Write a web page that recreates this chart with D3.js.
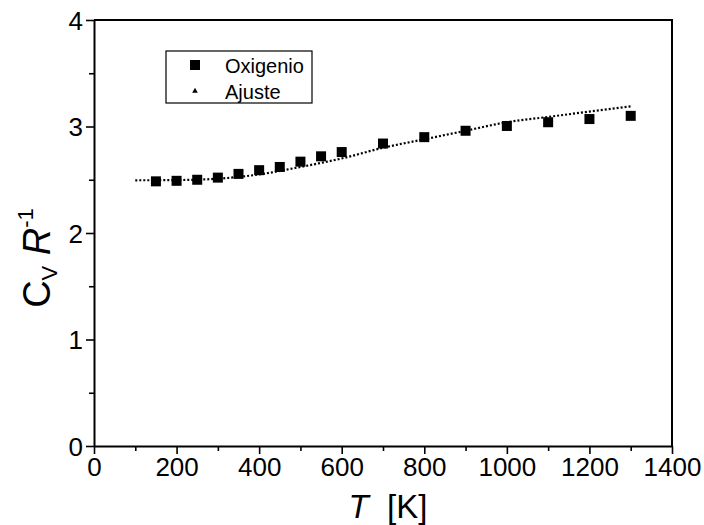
<!DOCTYPE html>
<html>
<head>
<meta charset="utf-8">
<script src="https://cdn.jsdelivr.net/npm/d3@7"></script>
<style>
  body { margin: 0; background: #fff; }
  svg text { font-family: "Liberation Sans", Arial, sans-serif; fill: #000; }
</style>
</head>
<body>
<svg id="chart" width="704" height="525"></svg>
<script>
'use strict';

// measured values (Oxigenio)
var temps = [150, 200, 250, 300, 350, 400, 450, 500, 550, 600, 700, 800, 900, 1000, 1100, 1200, 1300];
var cv = [2.485, 2.49, 2.50, 2.52, 2.555, 2.59, 2.62, 2.67, 2.72, 2.76, 2.84, 2.90, 2.96, 3.005, 3.04, 3.07, 3.10];

// fit curve (Ajuste)
var fitT = [100, 200, 300, 400, 500, 600, 700, 800, 900, 1000, 1100, 1200, 1300];
var fitCv = [2.495, 2.497, 2.51, 2.55, 2.62, 2.70, 2.80, 2.88, 2.96, 3.04, 3.09, 3.14, 3.19];

var xTicks = [0, 200, 400, 600, 800, 1000, 1200, 1400];
var yTicks = [0, 1, 2, 3, 4];
var legendLabels = ["Oxigenio", "Ajuste"];

var margin = {top: 20, left: 94};
var w = 578, h = 426;

var svg = d3.select("#chart");
var g = svg.append("g").attr("transform", "translate(" + margin.left + "," + margin.top + ")");

var x = d3.scaleLinear().domain([0, 1400]).range([0, w]);
var y = d3.scaleLinear().domain([0, 4]).range([h, 0]);

// minor ticks first
g.append("g")
	.attr("transform", "translate(0," + h + ")")
	.call(d3.axisBottom(x).tickValues(d3.range(100, 1400, 200)).tickSize(5).tickFormat(""))
	.call(a => a.select(".domain").remove());
g.append("g")
	.call(d3.axisLeft(y).tickValues([0.5, 1.5, 2.5, 3.5]).tickSize(5).tickFormat(""))
	.call(a => a.select(".domain").remove());

var xAxis = g.append("g")
	.attr("transform", "translate(0," + h + ")")
	.call(d3.axisBottom(x).tickValues(xTicks).tickFormat(d3.format("d")).tickSize(8).tickSizeOuter(0).tickPadding(4));
var yAxis = g.append("g")
	.call(d3.axisLeft(y).tickValues(yTicks).tickFormat(d3.format("d")).tickSize(8).tickSizeOuter(0).tickPadding(3));

[xAxis, yAxis].forEach(function(a){
	a.selectAll("text").style("font-size", "26px").attr("font-family", null);
});
yAxis.selectAll("text").attr("dy", "0.36em");
g.selectAll(".tick line").attr("stroke-width", 1.6);
g.selectAll(".domain").attr("stroke-width", 2);

// top and right frame
g.append("path")
	.attr("d", "M0,0H" + w + "V" + h)
	.attr("fill", "none").attr("stroke", "#000").attr("stroke-width", 2);

// fit line
var line = d3.line().x(function(d, i){ return x(fitT[i]); }).y(function(d){ return y(d); })
	.curve(d3.curveMonotoneX);
g.append("path")
	.datum(fitCv)
	.attr("d", line)
	.attr("fill", "none")
	.attr("stroke", "#000")
	.attr("stroke-width", 2.2)
	.attr("stroke-dasharray", "2 2");

// squares
var sq = 10;
g.selectAll(".pt").data(cv).enter().append("rect")
	.attr("class", "pt")
	.attr("x", function(d, i){ return x(temps[i]) - sq / 2; })
	.attr("y", function(d){ return y(d) - sq / 2; })
	.attr("width", sq).attr("height", sq)
	.attr("fill", "#000");

// legend
var leg = svg.append("g");
leg.append("rect").attr("x", 166).attr("y", 51).attr("width", 146).attr("height", 52)
	.attr("fill", "#fff").attr("stroke", "#000").attr("stroke-width", 1.2);
leg.append("rect").attr("x", 190).attr("y", 60).attr("width", sq).attr("height", sq).attr("fill", "#000");
leg.append("path").attr("d", d3.symbol(d3.symbolTriangle, 14)()).attr("transform", "translate(195,91)").attr("fill", "#000");
leg.selectAll(".lt").data(legendLabels).enter().append("text")
	.attr("x", 225)
	.attr("y", function(d, i){ return 73 + i * 26; })
	.style("font-size", "20px")
	.text(function(d){ return d; });

// axis titles
var xt = svg.append("text").attr("x", 388).attr("y", 518).attr("text-anchor", "middle").style("font-size", "33px");
xt.append("tspan").attr("font-style", "italic").text("T");
xt.append("tspan").text("\u00a0 [K]");

var yt = svg.append("text").attr("transform", "translate(50,258) rotate(-90)").attr("text-anchor", "middle").style("font-size", "38px");
yt.append("tspan").text("C");
yt.append("tspan").attr("dy", 7).style("font-size", "22px").text("V");
yt.append("tspan").attr("dy", -7).text("\u00a0");
yt.append("tspan").attr("font-style", "italic").text("R");
yt.append("tspan").attr("dy", -17).style("font-size", "22px").text("-1");
</script>
</body>
</html>
